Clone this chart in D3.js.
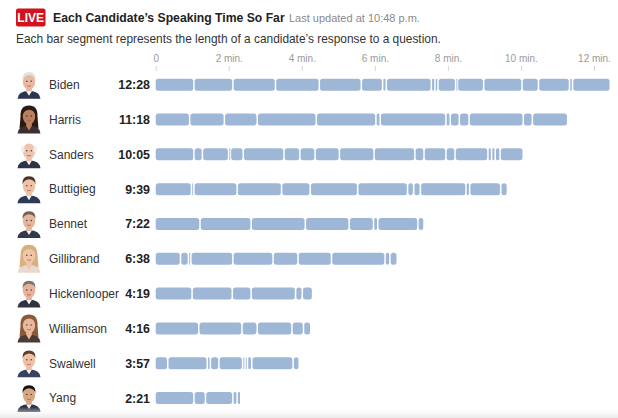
<!DOCTYPE html>
<html>
<head>
<meta charset="utf-8">
<script src="https://cdn.jsdelivr.net/npm/d3@7"></script>
<style>
  body { margin: 0; background: #fff; }
  svg { display: block; font-family: "Liberation Sans", Arial, sans-serif; }
</style>
</head>
<body>
<svg id="chart" width="618" height="418"></svg>
<script>
// candidates, top to bottom
const candidates = ["Biden", "Harris", "Sanders", "Buttigieg", "Bennet", "Gillibrand", "Hickenlooper", "Williamson", "Swalwell", "Yang"];
const totalLabels = ["12:28", "11:18", "10:05", "9:39", "7:22", "6:38", "4:19", "4:16", "3:57", "2:21"];

// length of each answer, in seconds
const bidenAnswers = [64, 64, 70, 72, 69, 35, 6, 74, 6, 5, 29, 3, 43, 63, 27, 51, 5, 62];
const harrisAnswers = [57, 57, 54, 97, 98, 7, 108, 7, 15, 16, 89, 15, 58];
const sandersAnswers = [64, 14, 43, 3, 21, 67, 26, 25, 40, 57, 67, 15, 36, 15, 54, 6, 6, 8, 38];
const buttigiegAnswers = [60, 4, 71, 73, 47, 78, 82, 10, 11, 75, 6, 51, 11];
const bennetAnswers = [74, 84, 89, 72, 40, 7, 66, 10];
const gillibrandAnswers = [42, 13, 4, 69, 66, 41, 55, 88, 8, 12];
const hickenlooperAnswers = [61, 66, 31, 73, 11, 17];
const williamsonAnswers = [72, 71, 25, 57, 19, 12];
const swalwellAnswers = [21, 65, 5, 14, 39, 4, 4, 7, 68, 10];
const yangAnswers = [64, 19, 45, 7, 6];
const answers = [bidenAnswers, harrisAnswers, sandersAnswers, buttigiegAnswers, bennetAnswers,
  gillibrandAnswers, hickenlooperAnswers, williamsonAnswers, swalwellAnswers, yangAnswers];

// axis ticks in minutes
const tickMinutes = [0, 2, 4, 6, 8, 10, 12];

// looks for the little head shots
const portraits = [
  { skin: "#e8b9a0", hair: "#e4e2df", suit: "#2b3550", style: "short" },
  { skin: "#b9825f", hair: "#2a1a12", suit: "#3a3030", style: "long" },
  { skin: "#efc3ad", hair: "#eeeeee", suit: "#2e3445", style: "bald" },
  { skin: "#eec2a6", hair: "#4a3222", suit: "#2d3a55", style: "short" },
  { skin: "#e6b59c", hair: "#6d6258", suit: "#333a48", style: "short" },
  { skin: "#f0c6aa", hair: "#d8b07c", suit: "#e9d9cf", style: "long" },
  { skin: "#e7b29a", hair: "#7c7670", suit: "#2f3440", style: "short" },
  { skin: "#e9b99c", hair: "#8a5a3a", suit: "#4a3a38", style: "long" },
  { skin: "#efc0a4", hair: "#5a4030", suit: "#36425e", style: "short" },
  { skin: "#d9a684", hair: "#151210", suit: "#2d3444", style: "short" }
];

const svg = d3.select("#chart");

const x = d3.scaleLinear().domain([0, 12 * 60]).range([155.7, 594]);
const y = d3.scalePoint().domain(candidates).range([84.7, 398]);
const barHeight = 12;
const gap = 1.5;

// header
svg.append("rect").attr("x", 16).attr("y", 8.5).attr("width", 29.5).attr("height", 18)
  .attr("rx", 2).attr("fill", "#d0131d");
svg.append("text").attr("x", 30.7).attr("y", 22).attr("text-anchor", "middle")
  .attr("font-size", 12).attr("font-weight", "bold").attr("fill", "#fff")
  .style("font-family", "'Liberation Sans Narrow', 'Liberation Sans', Arial, sans-serif")
  .text("LIVE");
svg.append("text").attr("x", 53).attr("y", 22).attr("font-size", 12.2).attr("font-weight", "bold")
  .attr("fill", "#222")
  .text("Each Candidate\u2019s Speaking Time So Far");
svg.append("text").attr("x", 289).attr("y", 21.5).attr("font-size", 11).attr("fill", "#8a8a8a")
  .text("Last updated at 10:48 p.m.");
svg.append("text").attr("x", 16).attr("y", 43).attr("font-size", 11.9).attr("fill", "#333")
  .text("Each bar segment represents the length of a candidate\u2019s response to a question.");

// top axis
const axis = d3.axisTop(x)
  .tickValues(tickMinutes.map(m => m * 60))
  .tickFormat(s => s === 0 ? "0" : `${s / 60} min.`)
  .tickSize(5)
  .tickPadding(4);
const axisG = svg.append("g").attr("transform", "translate(0,71)").call(axis);
axisG.select(".domain").remove();
axisG.selectAll(".tick line").attr("stroke", "#d6d6d6");
axisG.selectAll(".tick text").attr("fill", "#9a9a9a").attr("font-size", 10)
  .style("font-family", "'Liberation Sans', Arial, sans-serif");

// rows
const rows = svg.selectAll("g.row")
  .data(candidates)
  .enter()
  .append("g")
  .attr("class", "row")
  .attr("transform", d => `translate(0,${y(d)})`);

rows.append("text")
  .attr("x", 49).attr("y", 4.3)
  .attr("font-size", 12).attr("fill", "#333")
  .text(d => d);

rows.append("text")
  .attr("x", 150).attr("y", 4.5)
  .attr("text-anchor", "end")
  .attr("font-size", 12.4).attr("font-weight", "bold").attr("fill", "#222")
  .text((d, i) => totalLabels[i]);

// one rect per answer, stacked from the left
rows.each(function (d, i) {
  let start = 0;
  const segs = answers[i].map(len => {
    const s = { start: start, len: len };
    start += len;
    return s;
  });
  d3.select(this).selectAll("rect.seg")
    .data(segs)
    .enter()
    .append("rect")
    .attr("class", "seg")
    .attr("x", s => x(s.start))
    .attr("y", -barHeight / 2)
    .attr("width", s => Math.max(0.9, x(s.start + s.len) - x(s.start) - gap))
    .attr("height", barHeight)
    .attr("rx", s => Math.min(2.5, (x(s.start + s.len) - x(s.start) - gap) / 2))
    .attr("fill", "#9fb7d7");
});

// simple head shots
rows.each(function (d, i) {
  const p = portraits[i];
  const g = d3.select(this).append("g");
  if (p.style === "long") {
    g.append("path").attr("d", "M20.5,-3 Q20,-14 29,-14 Q38,-14 37.5,-3 L38.5,9 L19.5,9 Z").attr("fill", p.hair);
  }
  g.append("path").attr("d", "M17.5,14 Q18,6.5 29,6 Q40,6.5 40.5,14 Z").attr("fill", p.suit);
  g.append("path").attr("d", "M26,6.2 L29,11 L32,6.2 Z").attr("fill", p.style === "long" ? p.skin : "#f4f4f4");
  g.append("rect").attr("x", 26.2).attr("y", 1).attr("width", 5.6).attr("height", 5.5).attr("fill", p.skin);
  g.append("ellipse").attr("cx", 29).attr("cy", -3).attr("rx", 6.2).attr("ry", 7.8).attr("fill", p.skin);
  if (p.style === "bald") {
    g.append("ellipse").attr("cx", 22.8).attr("cy", -5).attr("rx", 1.8).attr("ry", 3.5).attr("fill", p.hair);
    g.append("ellipse").attr("cx", 35.2).attr("cy", -5).attr("rx", 1.8).attr("ry", 3.5).attr("fill", p.hair);
  } else {
    g.append("path").attr("d", "M22.6,-4.5 Q21.8,-12.8 29,-12.8 Q36.2,-12.8 35.4,-4.5 Q34.5,-9.5 29,-9.8 Q24,-9.6 22.6,-4.5 Z")
      .attr("fill", p.hair);
  }
  g.append("circle").attr("cx", 26.8).attr("cy", -3.5).attr("r", 0.7).attr("fill", "#3a2a22");
  g.append("circle").attr("cx", 31.2).attr("cy", -3.5).attr("r", 0.7).attr("fill", "#3a2a22");
  g.append("path").attr("d", "M27,1 Q29,2.2 31,1").attr("fill", "none").attr("stroke", "#a05a50").attr("stroke-width", 0.7);
});

// faint fade along the bottom edge
const defs = svg.append("defs");
const grad = defs.append("linearGradient").attr("id", "fade").attr("x1", 0).attr("y1", 0).attr("x2", 0).attr("y2", 1);
grad.append("stop").attr("offset", "0%").attr("stop-color", "#fff").attr("stop-opacity", 0);
grad.append("stop").attr("offset", "100%").attr("stop-color", "#e8e8e8").attr("stop-opacity", 1);
svg.append("rect").attr("x", 0).attr("y", 407).attr("width", 618).attr("height", 11).attr("fill", "url(#fade)");
</script>
</body>
</html>
